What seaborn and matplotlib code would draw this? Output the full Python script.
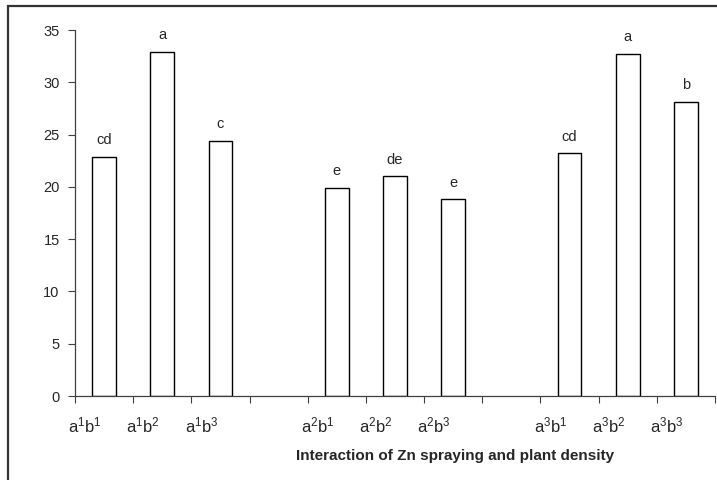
import matplotlib

matplotlib.use("Agg")
import matplotlib.pyplot as plt
import matplotlib.transforms as mtrans
from matplotlib.patches import Rectangle
import pandas as pd
import seaborn as sns

# data
treatments = ["a1b1", "a1b2", "a1b3", "a2b1", "a2b2", "a2b3", "a3b1", "a3b2", "a3b3"]
values = [22.9, 32.9, 24.4, 19.9, 21.0, 18.8, 23.2, 32.7, 28.1]
letters = ["cd", "a", "c", "e", "de", "e", "cd", "a", "b"]
# empty slots between the three Zn groups
slot_order = ["a1b1", "a1b2", "a1b3", "gap1", "a2b1", "a2b2", "a2b3", "gap2",
              "a3b1", "a3b2", "a3b3"]
tick_labels = [r"a$^{1}$b$^{1}$", r"a$^{1}$b$^{2}$", r"a$^{1}$b$^{3}$", "",
               r"a$^{2}$b$^{1}$", r"a$^{2}$b$^{2}$", r"a$^{2}$b$^{3}$", "",
               r"a$^{3}$b$^{1}$", r"a$^{3}$b$^{2}$", r"a$^{3}$b$^{3}$"]

df = pd.DataFrame({"treatment": treatments, "value": values})

sns.set_theme(style="white")
plt.rcParams["font.family"] = ["Liberation Sans", "DejaVu Sans"]
plt.rcParams["mathtext.default"] = "regular"

fig = plt.figure(figsize=(7.17, 4.8), dpi=100)
ax = fig.add_axes([75 / 717, 84 / 480, 640 / 717, 366 / 480])

sns.barplot(
    data=df, x="treatment", y="value", order=slot_order,
    color="white", edgecolor="black", linewidth=1.0, width=0.41,
    saturation=1, errorbar=None, ax=ax,
)

ax.bar_label(ax.containers[0], labels=letters, padding=7, fontsize=10.5)

ax.set_ylim(0, 35)
ax.set_yticks(range(0, 36, 5))
ax.set_xlim(-0.5, len(slot_order) - 0.5)

# tick marks at slot boundaries, labels on minor ticks
ax.set_xticks([i - 0.5 for i in range(len(slot_order) + 1)])
ax.set_xticklabels([])
ax.set_xticks(range(len(slot_order)), minor=True)
ax.set_xticklabels(tick_labels, minor=True, fontsize=12)
ax.tick_params(axis="x", which="minor", length=0, pad=14)
ax.tick_params(axis="x", which="major", length=5, width=0.8, color="#404040",
               direction="out", bottom=True)
ax.tick_params(axis="y", length=5, width=0.8, color="#404040", direction="out",
               left=True, labelsize=10.5, pad=6)
shift = mtrans.ScaledTranslation(-19 / 100, 0, fig.dpi_scale_trans)
for lab in ax.get_xticklabels(minor=True):
    lab.set_transform(lab.get_transform() + shift)

ax.set_xlabel("")
ax.set_ylabel("")
sns.despine(ax=ax)
for side in ["left", "bottom"]:
    ax.spines[side].set_color("#404040")
    ax.spines[side].set_linewidth(0.9)

fig.text(455 / 717, 1 - 456 / 480, "Interaction of Zn spraying and plant density",
         ha="center", va="center", fontsize=11, fontweight="bold")

# outer chart border, clipped at right and bottom like the reference
fig.patches.append(Rectangle((8 / 717, -0.1), 1.2, 1.1 - 6 / 480,
                             transform=fig.transFigure, fill=False,
                             edgecolor="#333333", linewidth=1.6))

fig.savefig("out.png", dpi=100)
